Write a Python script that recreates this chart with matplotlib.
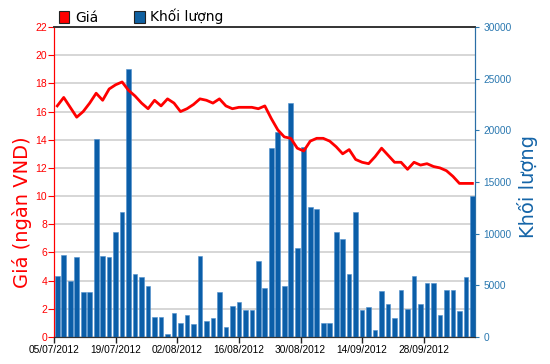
import numpy as np
import matplotlib
matplotlib.use('Agg')
import matplotlib.pyplot as plt
from matplotlib.patches import Patch

# gia (ngan VND), one point per trading day
gia = [16.4, 17.0, 16.3, 15.6, 16.0, 16.6, 17.3, 16.8, 17.6, 17.9,
       18.1, 17.5, 17.1, 16.6, 16.2, 16.8, 16.4, 16.9, 16.6, 16.0,
       16.2, 16.5, 16.9, 16.8, 16.6, 16.9, 16.4, 16.2, 16.3, 16.3,
       16.3, 16.2, 16.4, 15.5, 14.7, 14.2, 14.1, 13.4, 13.2, 13.9,
       14.1, 14.1, 13.9, 13.5, 13.0, 13.3, 12.6, 12.4, 12.3, 12.8,
       13.4, 12.9, 12.4, 12.4, 11.9, 12.4, 12.2, 12.3, 12.1, 12.0,
       11.8, 11.4, 10.9, 10.9, 10.9]

# khoi luong
kl = [5890, 7910, 5400, 7720, 4400, 4400, 19130, 7810, 7720, 10200,
      12120, 25950, 6140, 5800, 4920, 1940, 1940, 260, 2280, 1350,
      2090, 1230, 7810, 1580, 1800, 4340, 930, 2990, 3380, 2630,
      2630, 7340, 4790, 18270, 19810, 4920, 22610, 8650, 18420, 12570,
      12380, 1320, 1320, 10130, 9520, 6140, 12120, 2630, 2860, 680,
      4430, 3150, 1800, 4570, 2670, 5890, 3150, 5180, 5180, 2150,
      4540, 4540, 2510, 5800, 13610]

ngay = ['05/07/2012', '19/07/2012', '02/08/2012', '16/08/2012',
        '30/08/2012', '14/09/2012', '28/09/2012']

x = np.arange(len(gia))
red = '#ff0000'
blue = '#0b5ea8'
blue_txt = '#2a78b0'

fig = plt.figure(figsize=(5.5, 3.64), dpi=100)
ax = fig.add_axes([54/550, 27/364, 421/550, 310/364])
ax2 = ax.twinx()

ax.set_xlim(-0.4, len(gia) - 0.6)
ax.set_ylim(0, 22)
ax2.set_ylim(0, 30000)

ax.set_yticks(np.arange(0, 23, 2))
ax.yaxis.grid(True, color='#cfcfcf', linewidth=1.2)
ax.set_axisbelow(True)

ax2.bar(x, kl, width=0.72, color=blue, edgecolor='#4f8fcc', linewidth=0.4, zorder=2)
# line drawn on ax2 so it sits above the bars, but in price units
ax2.plot(x, gia, color=red, linewidth=2.0, transform=ax.transData, zorder=3)
ax2.set_xlim(ax.get_xlim())
ax2.set_ylim(0, 30000)

ax.set_xticks(-0.5 + 9.5*np.arange(len(ngay)))
ax.set_xticklabels(ngay, fontsize=7.3, family='Liberation Sans')
ax.tick_params(axis='x', length=4, width=1, color='#222222', pad=2)

ax.tick_params(axis='y', colors=red, length=4, pad=1, labelsize=7.5)
ax2.tick_params(axis='y', colors=blue_txt, length=3, pad=3, labelsize=7.3)
for t in ax.get_yticklabels() + ax2.get_yticklabels():
    t.set_family('Liberation Sans')

for a in (ax, ax2):
    a.spines['left'].set_color(red)
    a.spines['right'].set_color('#2a6ea6')
    a.spines['top'].set_color('#333333')
    a.spines['bottom'].set_color('#333333')
    a.spines['top'].set_linewidth(1.2)

fig.text(22/550, 1 - 212/364, 'Giá (ngàn VND)', rotation=90, color=red,
         fontsize=14, ha='center', va='center')
fig.text(527/550, 1 - 186/364, 'Khối lượng', rotation=90, color='#1565a8',
         fontsize=14, ha='center', va='center')

fig.legend(handles=[Patch(facecolor=red, edgecolor='#222222', linewidth=0.8),
                    Patch(facecolor='#1060a0', edgecolor='#222222', linewidth=0.8)],
           labels=['Giá', 'Khối lượng'], loc='upper left',
           bbox_to_anchor=(59/550, 1 - 9/364), ncol=2, frameon=False,
           fontsize=10, handlelength=0.75, handleheight=1.0,
           handletextpad=0.4, columnspacing=2.6, borderpad=0, borderaxespad=0)

fig.savefig('out.png', dpi=100)
